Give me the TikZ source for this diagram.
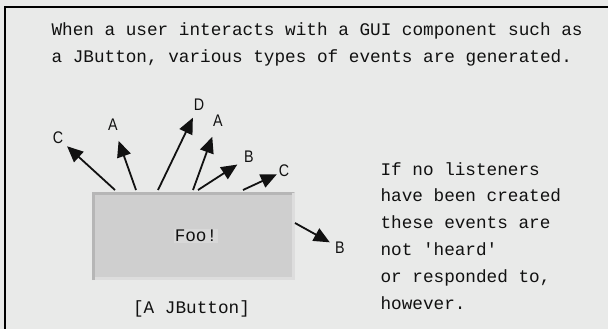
\documentclass[tikz,border=0pt]{standalone}
\usepackage{fontspec}
\usetikzlibrary{arrows.meta}
\newfontfamily\monofont{Liberation Mono}
\newfontfamily\letterfont[FakeStretch=0.85]{Liberation Sans}
\definecolor{ink}{HTML}{111111}
\definecolor{paper}{HTML}{E9EAE9}
\definecolor{btnface}{HTML}{CFCFCF}
\definecolor{btnlight}{HTML}{D8D8D8}
\definecolor{btnedge}{HTML}{DDDDDD}
\definecolor{btnshade}{HTML}{B6B6B6}

\begin{document}
\begin{tikzpicture}[x=1pt,y=-1pt,text=ink,>=Latex,
  mono/.style={font=\monofont\fontsize{17.7}{27}\selectfont},
  evlabel/.style={font=\letterfont\fontsize{16.8}{18}\selectfont,inner sep=0pt},
  evarrow/.style={-{Triangle[length=16pt,width=14pt]},line width=1.8pt,ink}]
  \useasboundingbox (0,0) rectangle (608,329);
  \fill[paper] (0,0) rectangle (608,329);
  \draw[black,line width=2pt] (5,329) -- (5,7) -- (608,7);
  % base of a two-line node is its last line
  \node[mono,anchor=base west,align=left] (intro) at (48,63)
    {When a user interacts with a GUI component such as\\a JButton, various types of events are generated.};
  % the button
  \node[fill=btnface,minimum width=203pt,minimum height=88pt,inner sep=0pt] (button) at (193.5,236) {};
  \draw[btnshade,line width=3pt] ([shift={(1.5,0)}]button.south west) -- ([shift={(1.5,1.5)}]button.north west)
    -- ([shift={(-1.5,1.5)}]button.north east);
  \draw[btnedge,line width=3pt] ([shift={(-1.5,1.5)}]button.north east) -- ([shift={(-1.5,-1.5)}]button.south east)
    -- ([shift={(3,-1.5)}]button.south west);
  \node[mono,fill=btnlight,inner sep=1pt] (foo) at ([xshift=2.5pt]button.center) {Foo!};
  \node[mono,anchor=base] (caption) at (191.5,313) {[A JButton]};
  % events fired from the button
  \foreach \sx/\sy/\lx/\ly/\ev/\sh [count=\i] in
    {115/190/58/138/C/5, 136/190/113/125/A/10.5, 158/190/199/105/D/7.5,
     193/190/218/121/A/10.5, 198/190/249/157/B/8, 243/190/284/171/C/2,
     295/223/340/248/B/6}{
    \coordinate (s\i) at (\sx,\sy);
    \node[evlabel] (ev\i) at (\lx,\ly) {\ev};
    \draw[evarrow,shorten >=\sh pt] (s\i) -- (ev\i);
  }
  \node[mono,anchor=base west,align=left,font=\monofont\fontsize{17.7}{26.8}\selectfont] (note) at (377,309)
    {If no listeners\\have been created\\these events are\\not \textquotesingle heard\textquotesingle\\or responded to,\\however.};
\end{tikzpicture}
\end{document}
